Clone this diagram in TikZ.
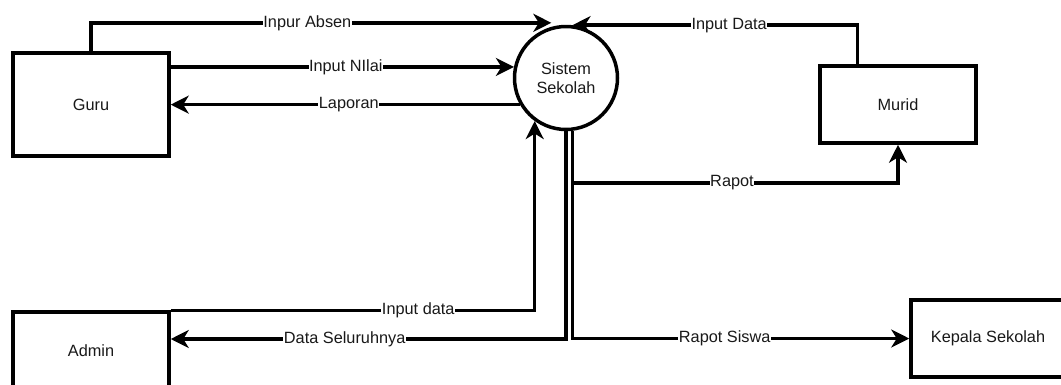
\documentclass[tikz,border=0pt]{standalone}
\usepackage{fontspec}
\setmainfont{Liberation Sans}
\usetikzlibrary{arrows.meta,calc}
\newcommand{\lblfont}{\fontsize{16.3}{19}\selectfont}
\begin{document}
\begin{tikzpicture}[x=1pt,y=-1pt,
  box/.style={draw=black, line width=3.5pt, inner sep=0pt, font=\lblfont, text=black!90},
  proc/.style={draw=black, circle, line width=3.5pt, minimum size=103pt, inner sep=0pt, font=\lblfont, text=black!90, align=center},
  conn/.style={draw=black, line width=3.5pt},
  arr/.style={conn, -{Stealth[length=18pt, width=18pt, inset=5.5pt]}},
  lbl/.style={fill=white, inner sep=0.5pt, font=\lblfont, text=black!90}]
\path[use as bounding box, clip] (0,0) rectangle (1061,384);
\fill[white] (0,0) rectangle (1061,384);

% nodes
\node[box, minimum width=156pt, minimum height=103pt] (guru) at (91,104.5) {Guru};
\node[box, minimum width=156pt, minimum height=78pt] (admin) at (91,351) {Admin};
\node[box, minimum width=156pt, minimum height=77pt] (murid) at (898,104.5) {Murid};
\node[box, minimum width=154pt, minimum height=77pt] (kepala) at (988,338.5) {Kepala Sekolah};
\node[proc] (sys) at (566,78) {Sistem\\Sekolah};

\coordinate (yR) at (0,183);
\coordinate (yB) at (0,339);

% Guru <-> Sistem
\draw[arr] (guru.north) |- node[lbl, pos=0.735] {Inpur Absen} ($(sys.106)+(0,-4)$);
\draw[arr] (guru.east |- sys.168) -- node[lbl, pos=0.51] {Input NIlai} (sys.168);
\draw[arr] (sys.210) -- node[lbl, pos=0.49] {Laporan} (guru.east |- sys.210);

% Murid <-> Sistem
\draw[arr] ($(murid.north west)+(39,0)$) |- node[lbl, pos=0.725] {Input Data} (sys.83);
\draw[arr] (sys.277 |- yR) -| node[lbl, pos=0.245] {Rapot} (murid.south);

% Admin <-> Sistem
\draw[arr] (admin.north east) -| node[lbl, pos=0.34] {Input data} (sys.234);
\draw[arr] (sys.270) |- node[lbl, pos=0.78] {Data Seluruhnya} (admin.east |- yB);

% Kepala Sekolah
\draw[arr] (sys.277) |- node[lbl, pos=0.726] {Rapot Siswa} (kepala.west);
\end{tikzpicture}
\end{document}
